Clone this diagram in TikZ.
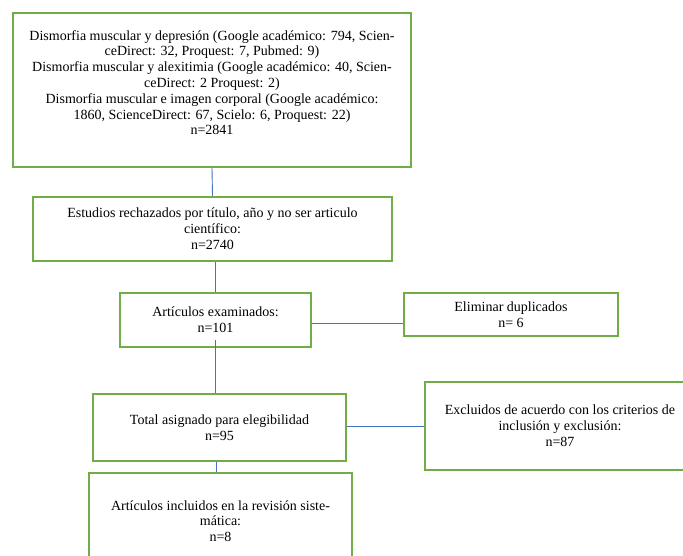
\documentclass[tikz,border=0pt]{standalone}
\usepackage{fontspec}
\setmainfont{Liberation Serif}
\usetikzlibrary{positioning}

\definecolor{boxgreen}{HTML}{70AD47}
\definecolor{lineblue}{HTML}{4472C4}

\begin{document}
\begin{tikzpicture}[x=1pt,y=-1pt,
                    box node/.style={draw=boxgreen,line width=1.6pt,align=center,inner sep=0pt,
                                     font=\fontsize{14}{15.8}\selectfont},
                    link/.style={draw=lineblue,line width=0.9pt}]

  \useasboundingbox (0,0) rectangle (683,556);
  \fill[white] (0,0) rectangle (683,556);

  % boxes of the review flow
  \node[box node, minimum width=398pt, minimum height=154pt] (search) at (212,90)
    {Dismorfia muscular y depresión (Google académico: 794, Scien-\\
     ceDirect: 32, Proquest: 7, Pubmed: 9)\\
     Dismorfia muscular y alexitimia (Google académico: 40, Scien-\\
     ceDirect: 2 Proquest: 2)\\
     Dismorfia muscular e imagen corporal (Google académico:\\
     1860, ScienceDirect: 67, Scielo: 6, Proquest: 22)\\
     n=2841\rule[-15pt]{0pt}{0pt}};
  \node[box node, minimum width=359pt, minimum height=64pt] (rejected) at (212.5,229)
    {Estudios rechazados por título, año y no ser articulo\\ científico:\\ n=2740};
  \node[box node, minimum width=191pt, minimum height=54pt] (examined) at (215.5,320)
    {Artículos examinados:\\ n=101};
  \node[box node, minimum width=214pt, minimum height=43pt] (dupl) at (511,314.5)
    {Eliminar duplicados\\ n= 6};
  \node[box node, minimum width=253pt, minimum height=67pt] (eligible) at (219.5,427.5)
    {Total asignado para elegibilidad\\ n=95};
  \node[box node, minimum width=270pt, minimum height=88pt] (excluded) at (560,426)
    {Excluidos de acuerdo con los criterios de\\ inclusión y exclusión:\\ n=87};
  \node[box node, minimum width=263pt, minimum height=96pt] (included) at (220.5,521)
    {Artículos incluidos en la revisión siste-\\ mática:\\ n=8};

  % connectors
  \draw[link] (search.south) -- (rejected.north);
  \draw[link] (examined.north) -- (examined.north |- rejected.south);
  \draw[link] ([yshift=-3pt]examined.east) -- ([yshift=-3pt]examined.east -| dupl.west);
  \draw[link] ([yshift=8pt]examined.south) -- (examined.south |- eligible.north);
  \draw[link] (eligible.east |- excluded.west) -- (excluded.west);
  \draw[link] ([xshift=-3pt]eligible.south) -- ([xshift=-3pt]eligible.south |- included.north);
\end{tikzpicture}
\end{document}
